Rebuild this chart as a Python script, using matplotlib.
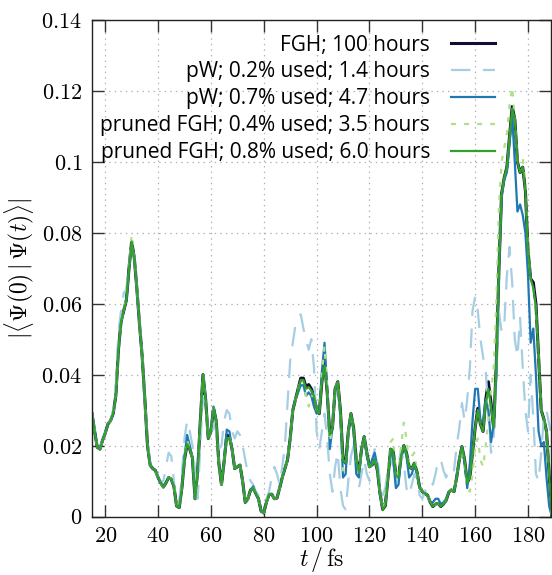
import numpy as np
import matplotlib
matplotlib.use("Agg")
import matplotlib.pyplot as plt
from matplotlib.ticker import FuncFormatter, MultipleLocator

plt.rcParams['mathtext.fontset'] = 'cm'
plt.rcParams['lines.scale_dashes'] = False

# ---------------- data ----------------
time_fs = np.arange(15, 190)  # t / fs, 1 fs sampling

labels = [
    "FGH; 100 hours",
    "pW; 0.2% used; 1.4 hours",
    "pW; 0.7% used; 4.7 hours",
    "pruned FGH; 0.4% used; 3.5 hours",
    "pruned FGH; 0.8% used; 6.0 hours",
]

fgh_100h = [
    0.029, 0.024, 0.0195, 0.019, 0.0215, 0.0235, 0.026, 0.027, 0.029, 0.034,
    0.047, 0.055, 0.058, 0.061, 0.070, 0.0775, 0.073, 0.064, 0.054, 0.045,
    0.033, 0.020, 0.0145, 0.0135, 0.013, 0.011, 0.0095, 0.0083, 0.0095, 0.011,
    0.0105, 0.0085, 0.003, 0.0025, 0.008, 0.016, 0.0205, 0.019, 0.0165, 0.005,
    0.013, 0.027, 0.040, 0.033, 0.022, 0.024, 0.0305, 0.027, 0.015, 0.009,
    0.0155, 0.023, 0.0225, 0.019, 0.0135, 0.014, 0.0145, 0.010, 0.004, 0.005,
    0.0075, 0.008, 0.0065, 0.005, 0.0015, 0.001, 0.004, 0.0062, 0.0063, 0.005,
    0.0052, 0.008, 0.011, 0.0135, 0.016, 0.022, 0.030, 0.033, 0.036, 0.039,
    0.039, 0.0365, 0.0372, 0.036, 0.034, 0.030, 0.029, 0.038, 0.044, 0.035,
    0.023, 0.025, 0.036, 0.038, 0.030, 0.016, 0.015, 0.024, 0.029, 0.025,
    0.016, 0.0125, 0.019, 0.0225, 0.018, 0.014, 0.0145, 0.016, 0.013, 0.0065,
    0.002, 0.003, 0.011, 0.019, 0.0185, 0.0115, 0.011, 0.017, 0.020, 0.018,
    0.014, 0.0135, 0.015, 0.0125, 0.0082, 0.007, 0.0065, 0.006, 0.004, 0.0028,
    0.0035, 0.0037, 0.0028, 0.0035, 0.0045, 0.0068, 0.0075, 0.007, 0.011, 0.016,
    0.0197, 0.016, 0.0095, 0.011, 0.018, 0.025, 0.0305, 0.026, 0.024, 0.033,
    0.038, 0.032, 0.025, 0.043, 0.070, 0.091, 0.0955, 0.0985, 0.107, 0.1156,
    0.112, 0.100, 0.097, 0.0985, 0.092, 0.075, 0.067, 0.066, 0.060, 0.045,
    0.030, 0.0275, 0.024, 0.012, 0.0,
]

pw_02 = [
    0.029, 0.024, 0.0195, 0.019, 0.0215, 0.0235, 0.026, 0.027, 0.030, 0.037,
    0.052, 0.058, 0.063, 0.064, 0.071, 0.077, 0.073, 0.064, 0.054, 0.045,
    0.033, 0.021, 0.015, 0.0135, 0.013, 0.011, 0.010, 0.010, 0.014, 0.018,
    0.017, 0.010, 0.003, 0.004, 0.012, 0.022, 0.027, 0.024, 0.020, 0.013,
    0.005, 0.020, 0.034, 0.031, 0.024, 0.022, 0.026, 0.024, 0.019, 0.020,
    0.027, 0.030, 0.029, 0.024, 0.022, 0.024, 0.023, 0.020, 0.016, 0.012,
    0.010, 0.009, 0.007, 0.006, 0.004, 0.004, 0.005, 0.007, 0.011, 0.014,
    0.012, 0.009, 0.014, 0.020, 0.032, 0.044, 0.049, 0.054, 0.056, 0.057,
    0.053, 0.050, 0.047, 0.050, 0.042, 0.024, 0.019, 0.024, 0.029, 0.022,
    0.012, 0.007, 0.014, 0.018, 0.008, 0.003, 0.002, 0.010, 0.017, 0.020,
    0.015, 0.008, 0.012, 0.016, 0.012, 0.010, 0.016, 0.019, 0.016, 0.010,
    0.006, 0.008, 0.014, 0.017, 0.014, 0.009, 0.015, 0.019, 0.015, 0.008,
    0.006, 0.009, 0.012, 0.010, 0.006, 0.005, 0.007, 0.009, 0.010, 0.009,
    0.012, 0.016, 0.016, 0.013, 0.011, 0.013, 0.014, 0.013, 0.020, 0.025,
    0.032, 0.027, 0.033, 0.042, 0.058, 0.062, 0.058, 0.050, 0.045, 0.041,
    0.030, 0.018, 0.022, 0.040, 0.058, 0.052, 0.054, 0.068, 0.076, 0.066,
    0.050, 0.045, 0.056, 0.042, 0.030, 0.024, 0.040, 0.028, 0.012, 0.010,
    0.018, 0.028, 0.030, 0.026, 0.022,
]

pw_07 = [
    0.029, 0.024, 0.0195, 0.019, 0.0215, 0.0235, 0.026, 0.027, 0.029, 0.034,
    0.047, 0.055, 0.058, 0.061, 0.070, 0.0770, 0.073, 0.064, 0.054, 0.045,
    0.033, 0.020, 0.0145, 0.0135, 0.013, 0.011, 0.0095, 0.0083, 0.0095, 0.011,
    0.0105, 0.0085, 0.003, 0.0025, 0.008, 0.017, 0.023, 0.020, 0.0165, 0.005,
    0.013, 0.027, 0.040, 0.033, 0.022, 0.024, 0.031, 0.027, 0.015, 0.009,
    0.016, 0.0245, 0.024, 0.019, 0.0135, 0.014, 0.0145, 0.010, 0.004, 0.005,
    0.0075, 0.0085, 0.0065, 0.005, 0.0015, 0.001, 0.004, 0.0062, 0.0063, 0.005,
    0.0052, 0.008, 0.011, 0.0135, 0.016, 0.022, 0.030, 0.033, 0.035, 0.037,
    0.037, 0.034, 0.035, 0.034, 0.031, 0.029, 0.030, 0.041, 0.049, 0.036,
    0.019, 0.025, 0.036, 0.037, 0.028, 0.011, 0.012, 0.024, 0.029, 0.024,
    0.012, 0.011, 0.019, 0.0225, 0.017, 0.014, 0.016, 0.018, 0.014, 0.006,
    0.003, 0.004, 0.011, 0.019, 0.016, 0.008, 0.009, 0.017, 0.020, 0.017,
    0.011, 0.012, 0.0145, 0.012, 0.008, 0.007, 0.0065, 0.006, 0.004, 0.004,
    0.005, 0.005, 0.0035, 0.004, 0.005, 0.0068, 0.0075, 0.007, 0.011, 0.016,
    0.0197, 0.015, 0.008, 0.015, 0.027, 0.036, 0.036, 0.027, 0.027, 0.033,
    0.030, 0.021, 0.026, 0.040, 0.070, 0.090, 0.095, 0.097, 0.105, 0.113,
    0.100, 0.086, 0.088, 0.085, 0.080, 0.068, 0.049, 0.053, 0.040, 0.024,
    0.020, 0.021, 0.011, 0.003, 0.0,
]

pruned_04 = [
    0.029, 0.024, 0.0195, 0.019, 0.0215, 0.0235, 0.026, 0.027, 0.029, 0.034,
    0.047, 0.055, 0.058, 0.062, 0.071, 0.0795, 0.073, 0.064, 0.054, 0.045,
    0.033, 0.020, 0.0145, 0.0135, 0.013, 0.011, 0.0095, 0.0083, 0.0095, 0.011,
    0.0105, 0.0085, 0.003, 0.0025, 0.008, 0.016, 0.0215, 0.019, 0.0165, 0.005,
    0.013, 0.027, 0.040, 0.033, 0.022, 0.024, 0.0305, 0.027, 0.015, 0.009,
    0.0155, 0.022, 0.0225, 0.019, 0.0135, 0.014, 0.0145, 0.010, 0.004, 0.005,
    0.0075, 0.008, 0.0065, 0.005, 0.0015, 0.001, 0.004, 0.0062, 0.0063, 0.005,
    0.0052, 0.008, 0.011, 0.0135, 0.016, 0.022, 0.030, 0.033, 0.036, 0.039,
    0.038, 0.034, 0.031, 0.034, 0.034, 0.030, 0.030, 0.040, 0.048, 0.036,
    0.021, 0.025, 0.036, 0.038, 0.030, 0.013, 0.015, 0.024, 0.029, 0.025,
    0.016, 0.0125, 0.019, 0.0225, 0.018, 0.014, 0.0145, 0.016, 0.013, 0.0065,
    0.002, 0.004, 0.013, 0.021, 0.022, 0.012, 0.012, 0.020, 0.0265, 0.022,
    0.015, 0.017, 0.018, 0.0125, 0.0082, 0.007, 0.0065, 0.006, 0.004, 0.0028,
    0.0035, 0.0037, 0.0028, 0.0035, 0.0045, 0.0068, 0.0075, 0.007, 0.011, 0.016,
    0.0190, 0.014, 0.008, 0.007, 0.012, 0.020, 0.022, 0.016, 0.014, 0.020,
    0.027, 0.035, 0.042, 0.060, 0.088, 0.100, 0.104, 0.108, 0.116, 0.121,
    0.112, 0.100, 0.100, 0.101, 0.094, 0.076, 0.066, 0.064, 0.058, 0.045,
    0.030, 0.0275, 0.024, 0.012, 0.0,
]

pruned_08 = [
    0.029, 0.024, 0.0195, 0.019, 0.0215, 0.0235, 0.026, 0.027, 0.029, 0.034,
    0.047, 0.055, 0.058, 0.061, 0.070, 0.0775, 0.073, 0.064, 0.054, 0.045,
    0.033, 0.020, 0.0145, 0.0135, 0.013, 0.011, 0.0095, 0.0083, 0.0095, 0.011,
    0.0105, 0.0085, 0.003, 0.0025, 0.008, 0.016, 0.0205, 0.019, 0.0165, 0.005,
    0.013, 0.027, 0.040, 0.033, 0.022, 0.024, 0.0305, 0.027, 0.015, 0.009,
    0.0155, 0.022, 0.0222, 0.019, 0.0135, 0.014, 0.0145, 0.010, 0.004, 0.005,
    0.0075, 0.008, 0.0065, 0.005, 0.0015, 0.001, 0.004, 0.0062, 0.0063, 0.005,
    0.0052, 0.008, 0.011, 0.0135, 0.016, 0.022, 0.030, 0.033, 0.036, 0.0385,
    0.0385, 0.036, 0.0365, 0.0355, 0.034, 0.030, 0.029, 0.038, 0.0425, 0.035,
    0.023, 0.025, 0.036, 0.038, 0.030, 0.016, 0.015, 0.024, 0.029, 0.025,
    0.016, 0.0125, 0.019, 0.0225, 0.018, 0.014, 0.0145, 0.016, 0.013, 0.0065,
    0.002, 0.003, 0.011, 0.019, 0.0185, 0.0115, 0.011, 0.017, 0.020, 0.018,
    0.014, 0.0135, 0.015, 0.0125, 0.0082, 0.007, 0.0065, 0.006, 0.004, 0.0028,
    0.0035, 0.0037, 0.0028, 0.0035, 0.0045, 0.0068, 0.0075, 0.007, 0.011, 0.016,
    0.0197, 0.016, 0.0095, 0.011, 0.018, 0.025, 0.030, 0.026, 0.024, 0.032,
    0.036, 0.031, 0.025, 0.043, 0.070, 0.091, 0.0955, 0.0985, 0.107, 0.1150,
    0.112, 0.100, 0.097, 0.0985, 0.092, 0.075, 0.067, 0.0645, 0.059, 0.045,
    0.030, 0.0275, 0.024, 0.012, 0.0,
]

series = [fgh_100h, pw_02, pw_07, pruned_04, pruned_08]
colors = ["#160b38", "#a6cee3", "#1f78b4", "#b2df8a", "#33a02c"]
widths = [2.2, 1.6, 1.6, 1.6, 1.6]
styles = ["-", (0, (14, 9)), "-", (0, (3.6, 5.8)), "-"]

# ---------------- figure ----------------
W, H = 552, 575
fig = plt.figure(figsize=(W / 100, H / 100), dpi=100)
ax = fig.add_axes([92 / W, 1 - 516.5 / H, (551 - 92) / W, (516.5 - 20) / H])

for ys, c, lw, ls, lab in zip(series, colors, widths, styles, labels):
    ax.plot(time_fs, ys, color=c, lw=lw, linestyle=ls, label=lab,
            solid_joinstyle="round", dash_capstyle="butt")

ax.set_xlim(15, 188.7)
ax.set_ylim(0, 0.14)
ax.xaxis.set_major_locator(MultipleLocator(20))
ax.yaxis.set_major_locator(MultipleLocator(0.02))
fmt = FuncFormatter(lambda v, p: "$%g$" % round(v, 4))
ax.xaxis.set_major_formatter(fmt)
ax.yaxis.set_major_formatter(fmt)
ax.tick_params(direction="in", length=8.5, width=1.0, top=True, right=True,
               labelsize=16, pad=7, color="#333333")
ax.grid(True, linestyle=(0, (1, 3)), color="#b0b0b0", linewidth=0.9)
for s in ax.spines.values():
    s.set_linewidth(1.0)
    s.set_color("#222222")

ax.set_xlabel(r"$t\,/\,\mathrm{fs}$", fontsize=17, labelpad=-1)
ax.set_ylabel(r"$|\langle\Psi(0)\,|\,\Psi(t)\rangle|$", fontsize=17, labelpad=4)

leg = ax.legend(loc="upper right", bbox_to_anchor=(0.91, 1.0), frameon=False,
                markerfirst=False, handlelength=2.1,
                handletextpad=1.02, labelspacing=0.28, borderaxespad=0.3,
                prop={"family": "Open Sans", "size": 15})

fig.savefig("out.png", dpi=100)
